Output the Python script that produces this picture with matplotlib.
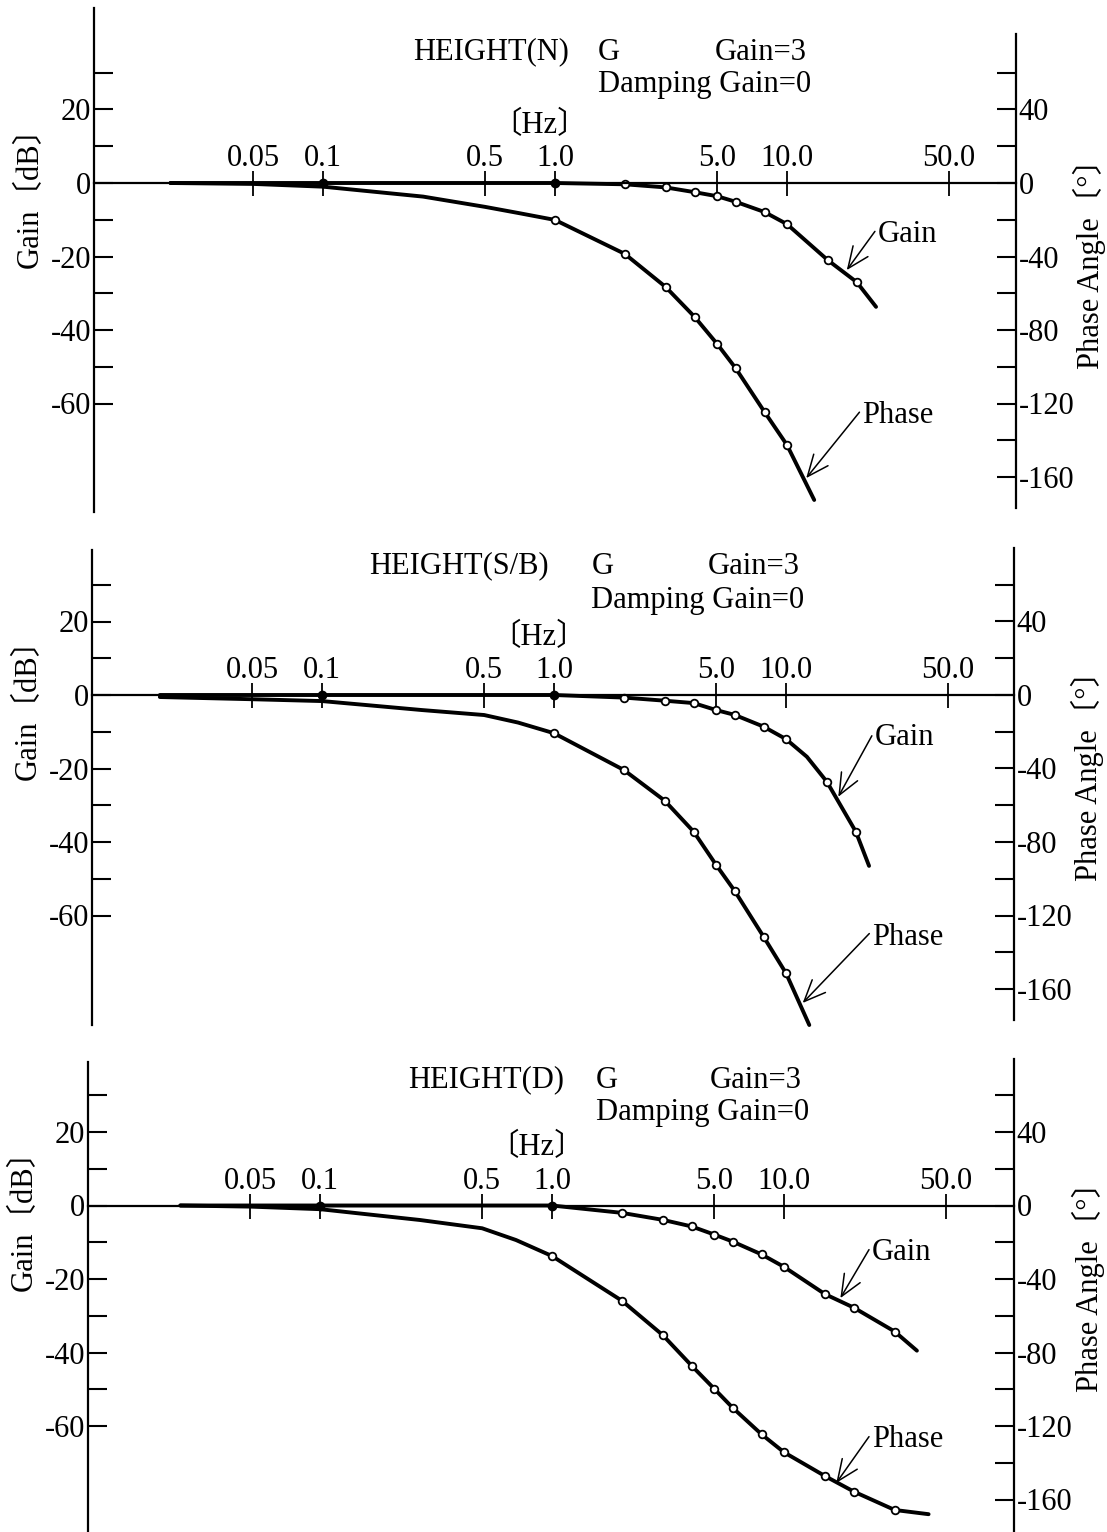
import numpy as np
import matplotlib
matplotlib.use("Agg")
import matplotlib.pyplot as plt
import matplotlib.transforms as mtransforms
from matplotlib.ticker import FixedLocator, FixedFormatter, NullLocator

plt.rcParams['font.family'] = ['Liberation Serif', 'Noto Sans CJK JP', 'DejaVu Sans']
plt.rcParams['axes.unicode_minus'] = False

W, H = 1107, 1532
PX_DB = 3.675      # pixels per dB (same as per 2 degrees)
DECADE = 232       # pixels per decade on the freq axis

# ---------------- data ----------------
titles = ["HEIGHT(N)", "HEIGHT(S/B)", "HEIGHT(D)"]

# panel 1 : HEIGHT(N)
gain1_f = [0.022, 0.05, 0.1, 0.5, 1.0, 2, 3, 4, 5, 6, 8, 10, 15, 20, 24.2]
gain1_db = [0, 0, 0, 0, 0, -0.35, -1.2, -2.5, -3.6, -5.1, -7.9, -11.2, -21.0, -27.0, -33.7]
phase1_f = [0.022, 0.05, 0.1, 0.27, 0.5, 0.7, 1.0, 2, 3, 4, 5, 6, 8, 10, 13.1]
phase1_deg = [0, -0.5, -2, -7.4, -13, -16.4, -20.1, -38.6, -56.6, -72.9, -87.6, -100.7, -124.6, -142.6, -172.5]

# panel 2 : HEIGHT(S/B)
gain2_f = [0.02, 0.05, 0.1, 0.5, 1.0, 2, 3, 4, 5, 6, 8, 10, 12.3, 15, 20, 22.8]
gain2_db = [0, 0, 0, 0, 0, -0.7, -1.55, -2.2, -4.1, -5.4, -8.6, -12.0, -16.8, -23.6, -37.2, -46.5]
phase2_f = [0.02, 0.05, 0.1, 0.27, 0.5, 0.7, 1.0, 2, 3, 4, 5, 6, 8, 10, 12.6]
phase2_deg = [-1.1, -2.3, -3.3, -8.2, -10.9, -15, -20.8, -40.8, -57.5, -74.4, -92.5, -106.5, -131.5, -151.4, -179.6]

# panel 3 : HEIGHT(D)
gain3_f = [0.025, 0.05, 0.1, 0.5, 1.0, 2, 3, 4, 5, 6, 8, 10, 15, 20, 30, 37.4]
gain3_db = [0, 0, 0, 0, 0, -2.0, -3.9, -5.7, -7.9, -9.8, -13.3, -16.7, -24.1, -27.8, -34.3, -39.5]
phase3_f = [0.025, 0.05, 0.1, 0.27, 0.5, 0.7, 1.0, 2, 3, 4, 5, 6, 8, 10, 15, 20, 30, 42]
phase3_deg = [0, -0.6, -2, -7.9, -12.4, -18.8, -27.5, -51.8, -70.5, -87.2, -99.7, -110.0,
              -124.5, -134.3, -147.2, -155.7, -165.7, -168.0]

# measured frequencies (open circles) and the filled points on the 0 line
open_marks = [1.0, 2, 3, 4, 5, 6, 8, 10, 15, 20, 30]
filled_marks = [0.1, 1.0]

freq_ticks = [0.05, 0.1, 0.5, 1.0, 5.0, 10.0, 50.0]
freq_labels = ["0.05", "0.1", "0.5", "1.0", "5.0", "10.0", "50.0"]
gain_ticks = [20, 0, -20, -40, -60]
gain_minor = [30, 10, -10, -30, -50]
phase_ticks = [40, 0, -40, -80, -120, -160]
phase_minor = [60, 20, -20, -60, -100, -140]

panels = [
    dict(gf=gain1_f, gv=gain1_db, pf=phase1_f, pv=phase1_deg,
         zero=183, left=94, right=1016, one=555, ylim=(-90, 48),
         lb=(-89.5, 47.6), rb=(-88.4, 40.6),
         title=(0.244, 35.6), g=1.53, gain3=4.9, damp=26.7,
         gain_ann=((18.1, -23.7), (24.6, -14.1)), ph_ann=((12.1, -80.3), (21.1, -63.4))),
    dict(gf=gain2_f, gv=gain2_db, pf=phase2_f, pv=phase2_deg,
         zero=695, left=92, right=1014, one=554, ylim=(-90.5, 40.5),
         lb=(-89.8, 39.5), rb=(-88.4, 40.0),
         title=(0.16, 35.1), g=1.45, gain3=4.6, damp=25.6,
         gain_ann=((16.8, -27.7), (24.1, -11.7)), ph_ann=((11.8, -83.8), (23.5, -66.1))),
    dict(gf=gain3_f, gv=gain3_db, pf=phase3_f, pv=phase3_deg,
         zero=1205.5, left=88, right=1014, one=552, ylim=(-89.5, 40.5),
         lb=(-89.5, 39.1), rb=(-89.5, 40.0),
         title=(0.24, 34.1), g=1.55, gain3=4.8, damp=25.4,
         gain_ann=((17.5, -25.2), (23.9, -12.7)), ph_ann=((16.8, -75.5), (23.9, -63.8))),
]

FS = 22
fig = plt.figure(figsize=(W / 100, H / 100), dpi=100)

for i, p in enumerate(panels):
    ylo, yhi = p['ylim']
    top_px = p['zero'] - yhi * PX_DB
    bot_px = p['zero'] - ylo * PX_DB
    ax = fig.add_axes([p['left'] / W, 1 - bot_px / H,
                       (p['right'] - p['left']) / W, (bot_px - top_px) / H])
    ax.set_xscale('log')
    ax.set_xlim(10 ** ((p['left'] - p['one']) / DECADE), 10 ** ((p['right'] - p['one']) / DECADE))
    ax.set_ylim(ylo, yhi)
    ax2 = ax.twinx()
    ax2.set_ylim(2 * ylo, 2 * yhi)

    # spines
    ax.spines['bottom'].set_visible(False)
    ax.spines['right'].set_visible(False)
    ax.spines['top'].set_position(('data', 0))
    ax.spines['left'].set_bounds(*p['lb'])
    for s in ['top', 'bottom', 'left']:
        ax2.spines[s].set_visible(False)
    ax2.spines['right'].set_bounds(2 * p['rb'][0], 2 * p['rb'][1])
    for s in [ax.spines['left'], ax.spines['top'], ax2.spines['right']]:
        s.set_linewidth(1.6)

    # frequency axis on the 0 dB line
    ax.xaxis.set_ticks_position('top')
    ax.xaxis.set_major_locator(FixedLocator(freq_ticks))
    ax.xaxis.set_major_formatter(FixedFormatter(freq_labels))
    ax.xaxis.set_minor_locator(NullLocator())
    ax.tick_params(axis='x', direction='inout', length=18, width=1.3, pad=-2, labelsize=FS)

    # gain axis
    ax.yaxis.set_major_locator(FixedLocator(gain_ticks))
    ax.yaxis.set_minor_locator(FixedLocator(gain_minor))
    ax.tick_params(axis='y', which='both', direction='in', length=14, width=1.5, pad=2, labelsize=FS)

    # phase axis
    ax2.yaxis.set_major_locator(FixedLocator(phase_ticks))
    ax2.yaxis.set_minor_locator(FixedLocator(phase_minor))
    ax2.tick_params(axis='y', which='both', direction='in', length=14, width=1.5, pad=2, labelsize=FS)

    # curves
    ax.plot(p['gf'], p['gv'], '-', color='k', lw=2.8, solid_capstyle='round')
    ax2.plot(p['pf'], p['pv'], '-', color='k', lw=2.8, solid_capstyle='round')

    gf = np.array(p['gf']); gv = np.array(p['gv'])
    pf = np.array(p['pf']); pv = np.array(p['pv'])
    m = np.isin(gf, open_marks) & (gf > 1.0)
    ax.plot(gf[m], gv[m], 'o', ms=5.5, mfc='white', mec='k', mew=1.3)
    m = np.isin(pf, open_marks)
    ax2.plot(pf[m], pv[m], 'o', ms=5.5, mfc='white', mec='k', mew=1.3)
    m = np.isin(gf, filled_marks)
    ax.plot(gf[m], gv[m], 'o', ms=6, mfc='k', mec='k', clip_on=False)

    # texts
    tx, ty = p['title']
    ax.text(tx, ty, titles[i], fontsize=FS, ha='left', va='center')
    ax.text(p['g'], ty, "G", fontsize=FS, ha='left', va='center')
    ax.text(p['gain3'], ty, "Gain=3", fontsize=FS, ha='left', va='center')
    ax.text(p['g'], p['damp'], "Damping Gain=0", fontsize=FS, ha='left', va='center')
    ax.text(0.86, 15.8, "〔Hz〕", fontsize=FS, ha='center', va='center')

    tr = mtransforms.blended_transform_factory(ax.transAxes, ax.transData)
    ax.text(-0.069, -2, "Gain〔dB〕", fontsize=FS, rotation=90, ha='center', va='center', transform=tr)
    ax.text(1.080, -20, "Phase Angle〔°〕", fontsize=FS, rotation=90, ha='center', va='center', transform=tr)

    for label, (head, txt) in [("Gain", p['gain_ann']), ("Phase", p['ph_ann'])]:
        ax.annotate(label, xy=head, xytext=txt, fontsize=FS, ha='left', va='center',
                    arrowprops=dict(arrowstyle='->,head_length=0.7,head_width=0.3', lw=1.1, color='k',
                                    shrinkA=0, shrinkB=0, relpos=(0, 0.75)))

fig.savefig('out.png', dpi=100)
